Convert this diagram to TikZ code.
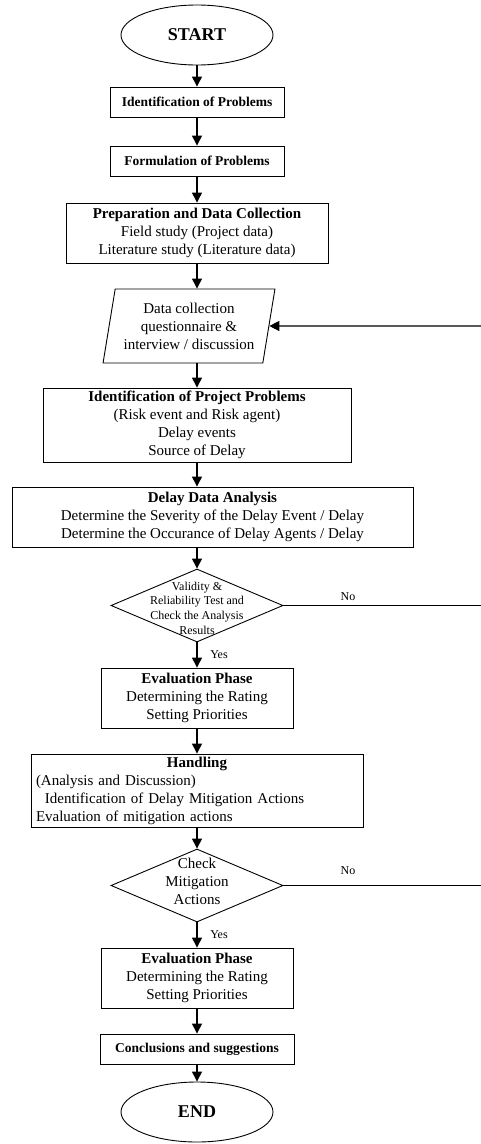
\documentclass[tikz,border=0pt]{standalone}
\usepackage{fontspec}
\setmainfont{Liberation Serif}
\usetikzlibrary{shapes.geometric,arrows.meta,shadows}
\begin{document}
\begin{tikzpicture}[x=1pt,y=-1pt,
  box/.style={draw, line width=0.9pt, fill=white, rectangle, inner sep=0pt, align=center,
    drop shadow={shadow xshift=1.2pt, shadow yshift=-1.2pt, fill=black!50, opacity=1}},
  body/.style={font=\fontsize{15}{18}\selectfont},
  small/.style={font=\fontsize{13.5}{16}\selectfont\bfseries},
  arr/.style={line width=1.3pt, -{Triangle[width=10pt,length=10pt]}},
  ln/.style={line width=1.3pt},
  term/.style={draw, ellipse, line width=0.9pt, inner sep=0pt, minimum width=152pt, minimum height=60pt,
    font=\fontsize{18}{20}\selectfont\bfseries},
  dec/.style={draw, diamond, line width=0.9pt, inner sep=0pt, minimum width=172pt, minimum height=73pt},
  io/.style={draw, trapezium, trapezium left angle=77, trapezium right angle=103, trapezium stretches=true,
    line width=0.9pt, inner sep=0pt, minimum width=172pt, minimum height=74pt, align=center},
  lab/.style={font=\fontsize{12}{14}\selectfont, inner sep=0pt}
]
\fill[white] (0,0) rectangle (480,1144);
\useasboundingbox (0,0) rectangle (480,1144);

\node[term] (start) at (197,35) {START};
\node[box, small, minimum width=174pt, minimum height=30pt] (idp) at (197,102) {Identification of Problems};
\node[box, small, minimum width=174pt, minimum height=30pt] (fop) at (197,161) {Formulation of Problems};
\node[box, body, minimum width=262pt, minimum height=60pt] (prep) at (197,233)
  {\textbf{Preparation and Data Collection}\\Field study (Project data)\\Literature study (Literature data)};
\node[io, body] (data) at (189,326) {Data collection\\questionnaire \&\\interview / discussion};
\node[box, body, minimum width=308pt, minimum height=74pt] (ipp) at (197,425)
  {\textbf{Identification of Project Problems}\\(Risk event and Risk agent)\\Delay events\\Source of Delay};
\node[box, body, minimum width=401pt, minimum height=60pt] (dda) at (212.5,517)
  {\textbf{Delay Data Analysis}\\Determine the Severity of the Delay Event / Delay\\Determine the Occurance of Delay Agents / Delay};
\node[dec] (val) at (197,605.5) {};
\node[font=\fontsize{12}{14.7}\selectfont, align=center, inner sep=0pt] (valt) at (197,608)
  {Validity \&\\Reliability Test and\\Check the Analysis\\Results};
\node[box, body, minimum width=192pt, minimum height=60pt] (ev1) at (197,698)
  {\textbf{Evaluation Phase}\\Determining the Rating\\Setting Priorities};
\node[box, body, minimum width=332pt, minimum height=73pt, align=left, text width=322pt] (hand) at (197,790.5)
  {\makebox[322pt][c]{\bfseries Handling}\\(Analysis and Discussion)\\\hspace*{9pt}Identification of Delay Mitigation Actions\\Evaluation of mitigation actions};
\node[dec] (chk) at (197,885.5) {};
\node[body, align=center, inner sep=0pt] (chkt) at (197,881.5) {Check\\Mitigation\\Actions};
\node[box, body, minimum width=192pt, minimum height=60pt] (ev2) at (197,978)
  {\textbf{Evaluation Phase}\\Determining the Rating\\Setting Priorities};
\node[box, small, minimum width=194pt, minimum height=30pt] (conc) at (197,1049) {Conclusions and suggestions};
\node[term] (end) at (197,1112) {END};

\coordinate (r0) at (486,326);
\coordinate (r1) at (486,605.5);
\coordinate (r2) at (486,885.5);

\draw[arr] (start) -- (idp);
\draw[arr] (idp) -- (fop);
\draw[arr] (fop) -- (prep);
\draw[arr] (prep) -- (prep |- data.north);
\draw[arr] (prep |- data.south) -- (ipp.north);
\draw[arr] (ipp) -- (ipp |- dda.north);
\draw[arr] (ipp |- dda.south) -- (val.north);
\draw[arr] (val) -- (ev1);
\draw[arr] (ev1) -- (hand);
\draw[arr] (hand) -- (chk);
\draw[arr] (chk) -- (ev2);
\draw[arr] (ev2) -- (conc);
\draw[arr] (conc) -- (end);
\draw[arr] (r0) -- (data.east);
\draw[ln] (val.east) -- (r1);
\draw[ln] (chk.east) -- (r2);

\node[lab] (no1) at (348,597) {No};
\node[lab] (no2) at (348,871) {No};
\node[lab] (yes1) at (219,655) {Yes};
\node[lab] (yes2) at (219,935) {Yes};
\end{tikzpicture}
\end{document}
